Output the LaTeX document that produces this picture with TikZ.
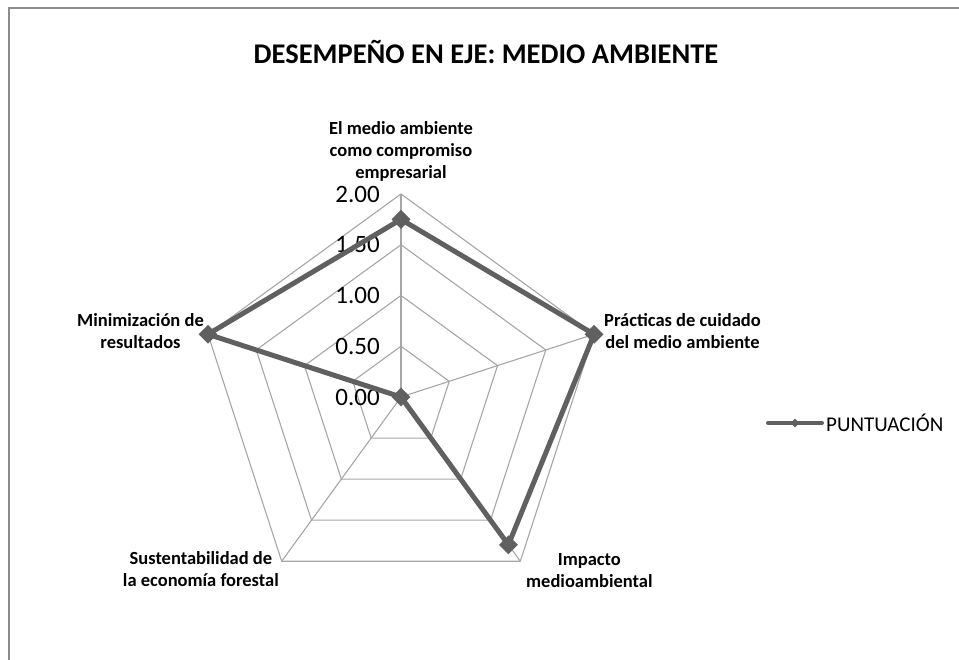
\documentclass[tikz,border=0pt]{standalone}
\usepackage{fontspec}
\setmainfont{Carlito}
\usepackage{xcolor}
\usetikzlibrary{shapes.geometric,positioning,calc}
\definecolor{framegray}{HTML}{8C8C8C}
\definecolor{gridgray}{HTML}{A6A6A6}
\definecolor{seriesgray}{HTML}{606060}

\begin{document}
\begin{tikzpicture}[
    x=1pt, y=1pt,
    frameline/.style={draw=framegray, line width=2.5pt},
    grid/.style={draw=gridgray, line width=1.1pt},
    series/.style={draw=seriesgray, line width=5pt, line join=round},
    diam/.style={diamond, fill=seriesgray, inner sep=0pt, minimum size=19pt},
    tick/.style={anchor=east, inner sep=0pt, font=\fontsize{25}{25}\selectfont},
    catlabel/.style={align=center, inner sep=0pt, font=\bfseries\fontsize{18.5}{22}\selectfont},
    title/.style={font=\bfseries\fontsize{28.5}{28.5}\selectfont}
]
    \useasboundingbox (0,0) rectangle (959,-660);
    \draw[frameline] (9,-680) |- (980,-8);

    \node[title] (title) at (486,-52) {DESEMPEÑO EN EJE: MEDIO AMBIENTE};

    % radar grid
    \begin{scope}[shift={(401,-397)}]
        \foreach \r in {50.75,101.5,152.25,203}
            \draw[grid] (90:\r) -- (18:\r) -- (-54:\r) -- (-126:\r) -- (162:\r) -- cycle;
        \foreach \a in {90,18,-54,-126,162}
            \draw[grid] (0,0) -- (\a:203);

        \node[tick] (t0) at (-21,0) {0.00};
        \node[tick] (t1) at (-21,50.75) {0.50};
        \node[tick] (t2) at (-21,101.5) {1.00};
        \node[tick] (t3) at (-21,152.25) {1.50};
        \node[tick] (t4) at (-21,203) {2.00};

        % data points
        \coordinate (p1) at (90:{1.75*101.5});
        \coordinate (p2) at (18:{2.0*101.5});
        \coordinate (p3) at (-54:{1.8*101.5});
        \coordinate (p4) at (-126:0);
        \coordinate (p5) at (162:{2.0*101.5});
        \draw[series] (p1) -- (p2) -- (p3) -- (p4) -- (p5) -- cycle;
        \foreach \p in {p1,p2,p3,p4,p5}
            \node[diam] at (\p) {};
    \end{scope}

    % category labels
    \node[catlabel] (medio) at (401,-151) {El medio ambiente\\como compromiso\\empresarial};
    \node[catlabel, anchor=west] (practicas) at (604,-331) {Prácticas de cuidado\\del medio ambiente};
    \node[catlabel, anchor=west] (impacto) at (526,-571) {Impacto\\medioambiental};
    \node[catlabel, anchor=east] (sustent) at (279,-569) {Sustentabilidad de\\la economía forestal};
    \node[catlabel, anchor=east] (minim) at (204,-331) {Minimización de\\resultados};

    % legend
    \coordinate (lgA) at (768,-423);
    \coordinate (lgB) at (822,-423);
    \draw[series, line width=4pt, line cap=round] (lgA) -- (lgB);
    \node[diam, minimum size=9pt] (lgmark) at ($(lgA)!0.5!(lgB)$) {};
    \node[anchor=west, inner sep=0pt, font=\fontsize{21}{21}\selectfont] (legend) at (826,-423) {PUNTUACIÓN};
\end{tikzpicture}
\end{document}
